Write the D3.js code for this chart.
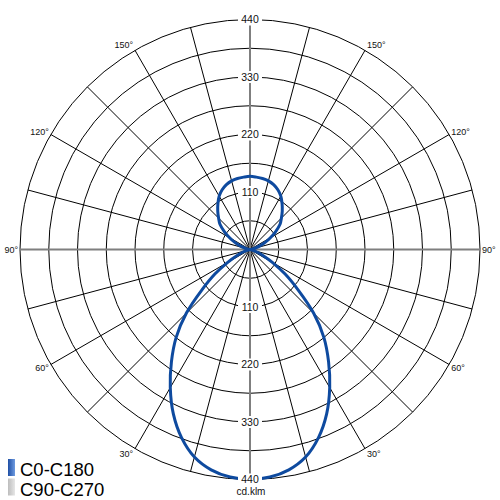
<!DOCTYPE html>
<html>
<head>
<meta charset="utf-8">
<script src="https://cdn.jsdelivr.net/npm/d3@7"></script>
<style>
body { margin: 0; background: #fff; }
text { font-family: "Liberation Sans", Arial, sans-serif; }
</style>
</head>
<body>
<div id="chart"></div>
<script>
// gamma angles (deg from nadir) and intensities, cd/klm
const gammaAngles = [0,5,10,15,20,25,30,35,40,45,50,55,60,65,70,75,80,85,90,
	95,100,105,110,115,120,125,130,135,140,145,150,155,160,165,170,175,180]
const c0Values = [440,437,428,411,383,347,305,262,220,172,120,82,50,28,14,6,2,0,0,
	1,4,10,20,32,45,60,75,85,96,107,118,126,132,136,138,139,140]
const ringValues = [55,110,165,220,275,330,385,440]
const ringLabels = [110,220,330,440]
const angleLabels = [30,60,90,120,150]
const seriesNames = ["C0-C180","C90-C270"]

const width = 500, height = 500
const cx = 250, cy = 249.5, R = 230

const svg = d3.select("#chart")
	.append("svg")
		.attr("width", width)
		.attr("height", height)

const defs = svg.append("defs")
const gradBlue = defs.append("linearGradient").attr("id", "gBlue")
gradBlue.append("stop").attr("offset", "0%").attr("stop-color", "#1f4fa5")
gradBlue.append("stop").attr("offset", "100%").attr("stop-color", "#6f9be0")
const gradGray = defs.append("linearGradient").attr("id", "gGray")
gradGray.append("stop").attr("offset", "0%").attr("stop-color", "#bdbdbd")
gradGray.append("stop").attr("offset", "100%").attr("stop-color", "#e6e6e6")

const g = svg.append("g")
	.attr("transform", `translate(${cx}, ${cy})`)

// radial scale
const r = d3.scaleLinear()
	.domain([0, 440])
	.range([0, R])

const toRad = d3.scaleLinear().domain([0, 180]).range([0, Math.PI])

// Rings
g.selectAll("circle.ring")
	.data(ringValues)
	.enter().append("circle")
	.attr("class", "ring")
	.attr("r", d => r(d))
	.attr("fill", "none")
	.attr("stroke", "#000")
	.attr("stroke-width", 1)

// Spokes every 15 deg
g.selectAll("line.spoke")
	.data(d3.range(0, 360, 15).filter(a => a % 90 !== 0))
	.enter().append("line")
	.attr("class", "spoke")
	.attr("x1", 0).attr("y1", 0)
	.attr("x2", a => R * Math.sin(toRad(a)))
	.attr("y2", a => R * Math.cos(toRad(a)))
	.attr("stroke", "#000")
	.attr("stroke-width", 1)

// main axes
g.selectAll("line.axis")
	.data([0, 90, 180, 270])
	.enter().append("line")
	.attr("class", "axis")
	.attr("x1", 0).attr("y1", 0)
	.attr("x2", a => R * Math.sin(toRad(a)))
	.attr("y2", a => R * Math.cos(toRad(a)))
	.attr("stroke", "#7f7f7f")
	.attr("stroke-width", 2)

// Curve C0-C180
const pts = []
gammaAngles.forEach((gm, i) => pts.push({ a: Math.PI - toRad(gm), v: c0Values[i] }))
for (let i = gammaAngles.length - 2; i >= 1; i--) {
	pts.push({ a: toRad(gammaAngles[i]) - Math.PI, v: c0Values[i] })
}

const line = d3.lineRadial()
	.angle(d => d.a)
	.radius(d => r(d.v))
	.curve(d3.curveCatmullRomClosed.alpha(0.5))

g.append("path")
	.datum(pts)
	.attr("d", line)
	.attr("fill", "none")
	.attr("stroke", "#0e4a9f")
	.attr("stroke-width", 3)

// Value labels (top and bottom)
const lab = g.selectAll("g.vlab")
	.data(ringLabels.flatMap(v => [{ v, s: -1 }, { v, s: 1 }]))
	.enter().append("g")
	.attr("class", "vlab")
	.attr("transform", d => `translate(0, ${d.s * r(d.v)})`)

lab.append("rect")
	.attr("x", -12).attr("y", -6)
	.attr("width", 24).attr("height", 12)
	.attr("fill", "#fff")

lab.append("text")
	.attr("text-anchor", "middle")
	.attr("dy", "0.35em")
	.attr("font-size", "10.5px")
	.attr("fill", "#111")
	.text(d => d.v)

// Angle labels
angleLabels.forEach(a => {
	const px = R * Math.sin(toRad(a))
	const py = (R + 6) * Math.cos(toRad(a))
	;[-1, 1].forEach(s => {
		g.append("text")
			.attr("x", s * (px + 2))
			.attr("y", py)
			.attr("dy", "0.35em")
			.attr("text-anchor", s < 0 ? "end" : "start")
			.attr("font-size", "9px")
			.attr("fill", "#111")
			.text(a + "°")
	})
})

// unit
svg.append("text")
	.attr("x", 251)
	.attr("y", 495)
	.attr("text-anchor", "middle")
	.attr("font-size", "10px")
	.attr("fill", "#111")
	.text("cd.klm")

// Legend
const legend = svg.append("g")
	.attr("transform", "translate(8, 459)")

seriesNames.forEach((name, i) => {
	const row = legend.append("g")
		.attr("transform", `translate(0, ${i * 19.5})`)
	row.append("rect")
		.attr("width", 7)
		.attr("height", 17)
		.attr("fill", i === 0 ? "url(#gBlue)" : "url(#gGray)")
	row.append("text")
		.attr("x", 12)
		.attr("y", 17)
		.attr("font-size", "18.5px")
		.attr("fill", "#000")
		.text(name)
})
</script>
</body>
</html>
